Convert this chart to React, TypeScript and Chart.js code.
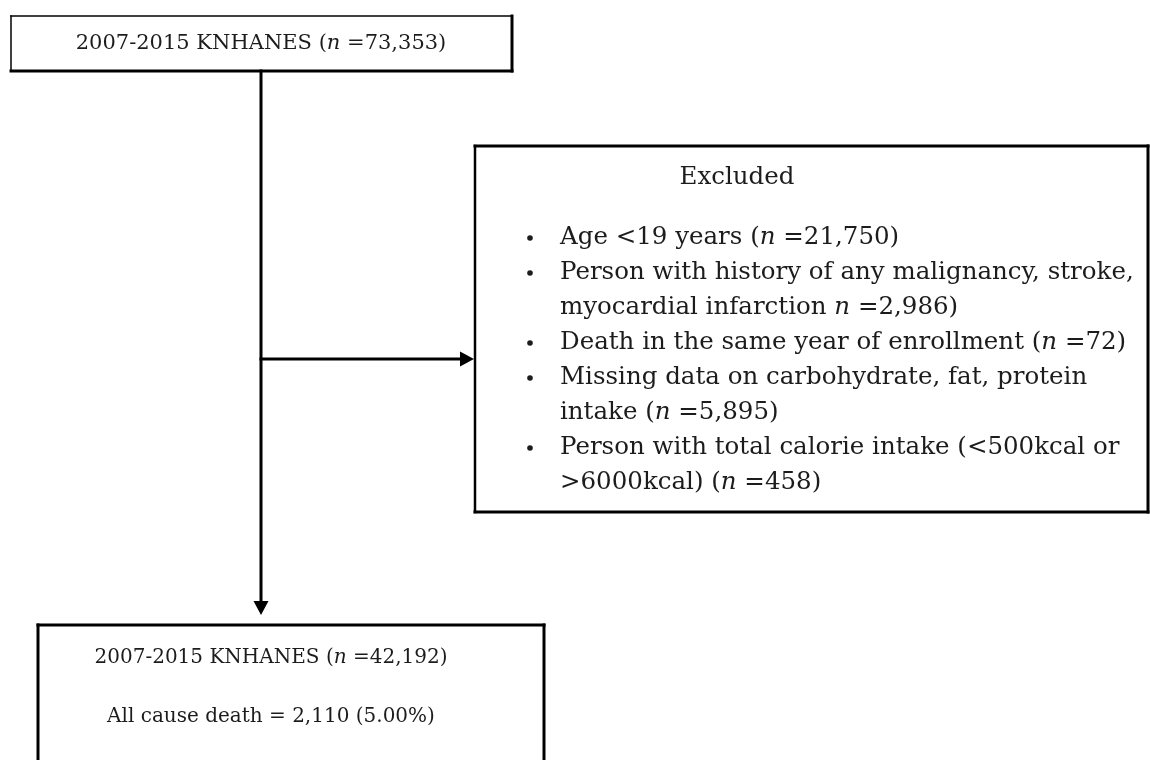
import React, { useEffect, useRef } from "react";
import { Chart, registerables } from "chart.js";

Chart.register(...registerables);

// ---- content (text marked with *...* is italic) ----
const topBoxLines: string[] = ["2007-2015 KNHANES (*n* =73,353)"];
const excludedTitle: string = "Excluded";
const excludedItems: string[][] = [
  ["Age <19 years (*n* =21,750)"],
  ["Person with history of any malignancy, stroke,", "myocardial infarction *n* =2,986)"],
  ["Death in the same year of enrollment (*n* =72)"],
  ["Missing data on carbohydrate, fat, protein", "intake (*n* =5,895)"],
  ["Person with total calorie intake (<500kcal or", ">6000kcal) (*n* =458)"],
];
const bottomBoxLines: string[] = ["2007-2015 KNHANES (*n* =42,192)", "All cause death = 2,110 (5.00%)"];

// ---- layout in a 1150 x 760 coordinate space ----
const W = 1150;
const H = 760;
const layout = {
  topBox: { x0: 11, x1: 512, y0: 16, y1: 71, lineYs: [44], textX: 261, fontSize: 21 },
  excluded: {
    x0: 475, x1: 1148, y0: 146, y1: 512,
    titleX: 737, titleY: 178, firstY: 238, gap: 35, bulletX: 530, textX: 560, fontSize: 24.5,
  },
  bottomBox: { x0: 38, x1: 544, y0: 625, y1: 820, lineYs: [658, 717], textX: 271, fontSize: 20 },
  trunk: { x: 261, y0: 71, tipY: 615 },
  branch: { y: 359, tipX: 474 },
};
const FONT_FAMILY = "'DejaVu Serif', 'Liberation Serif', serif";
const TEXT_COLOR = "#1c1c1c";

type Run = { t: string; it: boolean };
function parseRuns(s: string): Run[] {
  const parts = s.split("*");
  return parts.map((t, i) => ({ t, it: i % 2 === 1 })).filter((r) => r.t.length > 0);
}

const flowPlugin = {
  id: "flowchart",
  afterDraw(chart: any) {
    const ctx: CanvasRenderingContext2D = chart.ctx;
    const xs = chart.scales.x;
    const ys = chart.scales.y;
    const px = (v: number) => xs.getPixelForValue(v);
    const py = (v: number) => ys.getPixelForValue(v);
    const font = (it: boolean, size: number) => `${it ? "italic " : ""}${size}px ${FONT_FAMILY}`;

    const measure = (s: string, size: number) => {
      let w = 0;
      for (const r of parseRuns(s)) {
        ctx.font = font(r.it, size);
        w += ctx.measureText(r.t).width;
      }
      return w;
    };
    const drawText = (s: string, x: number, y: number, align: "left" | "center", size: number) => {
      let cx = align === "center" ? x - measure(s, size) / 2 : x;
      ctx.fillStyle = TEXT_COLOR;
      ctx.textBaseline = "middle";
      ctx.textAlign = "left";
      for (const r of parseRuns(s)) {
        ctx.font = font(r.it, size);
        ctx.fillText(r.t, cx, y);
        cx += ctx.measureText(r.t).width;
      }
    };
    const line = (x0: number, y0: number, x1: number, y1: number, w: number) => {
      ctx.beginPath();
      ctx.moveTo(px(x0), py(y0));
      ctx.lineTo(px(x1), py(y1));
      ctx.lineWidth = w;
      ctx.strokeStyle = "#000";
      ctx.lineCap = "square";
      ctx.stroke();
    };
    const box = (b: { x0: number; x1: number; y0: number; y1: number }, wTop: number, wRight: number, wBottom: number, wLeft: number) => {
      line(b.x0, b.y0, b.x1, b.y0, wTop);
      line(b.x1, b.y0, b.x1, b.y1, wRight);
      line(b.x0, b.y1, b.x1, b.y1, wBottom);
      line(b.x0, b.y0, b.x0, b.y1, wLeft);
    };
    const arrowHead = (tx: number, ty: number, dir: "down" | "right") => {
      const L = 14;
      const hw = 7.5;
      ctx.beginPath();
      if (dir === "down") {
        ctx.moveTo(px(tx), py(ty));
        ctx.lineTo(px(tx - hw), py(ty - L));
        ctx.lineTo(px(tx + hw), py(ty - L));
      } else {
        ctx.moveTo(px(tx), py(ty));
        ctx.lineTo(px(tx - L), py(ty - hw));
        ctx.lineTo(px(tx - L), py(ty + hw));
      }
      ctx.closePath();
      ctx.fillStyle = "#000";
      ctx.fill();
    };

    ctx.save();
    // top box
    const tb = layout.topBox;
    box(tb, 1.5, 3, 3, 1.5);
    topBoxLines.forEach((s, i) => drawText(s, px(tb.textX), py(tb.lineYs[i]), "center", tb.fontSize));

    // excluded box
    const ex = layout.excluded;
    box(ex, 3, 3, 3, 2.5);
    drawText(excludedTitle, px(ex.titleX), py(ex.titleY), "center", ex.fontSize);
    let row = 0;
    excludedItems.forEach((item) => {
      item.forEach((s, j) => {
        const y = py(ex.firstY + row * ex.gap);
        if (j === 0) {
          ctx.beginPath();
          ctx.arc(px(ex.bulletX), y, 2.8, 0, Math.PI * 2);
          ctx.fillStyle = TEXT_COLOR;
          ctx.fill();
        }
        drawText(s, px(ex.textX), y, "left", ex.fontSize);
        row++;
      });
    });

    // bottom box
    const bb = layout.bottomBox;
    box(bb, 3, 3, 3, 3);
    bottomBoxLines.forEach((s, i) => drawText(s, px(bb.textX), py(bb.lineYs[i]), "center", bb.fontSize));

    // connectors
    const tr = layout.trunk;
    line(tr.x, tr.y0, tr.x, tr.tipY - 8, 3);
    arrowHead(tr.x, tr.tipY, "down");
    const br = layout.branch;
    line(tr.x, br.y, br.tipX - 8, br.y, 3);
    arrowHead(br.tipX, br.y, "right");
    ctx.restore();
  },
};

export default function App() {
  const ref = useRef<HTMLCanvasElement | null>(null);
  useEffect(() => {
    document.body.style.margin = "0";
    document.body.style.background = "#fff";
    if (!ref.current) return;
    const chart = new Chart(ref.current, {
      type: "scatter",
      data: { datasets: [{ data: [], pointRadius: 0 }] },
      options: {
        animation: false,
        responsive: true,
        maintainAspectRatio: false,
        layout: { padding: 0 },
        plugins: { legend: { display: false }, tooltip: { enabled: false } },
        scales: {
          x: { type: "linear", min: 0, max: W, display: false },
          y: { type: "linear", min: 0, max: H, reverse: true, display: false },
        },
      },
      plugins: [flowPlugin],
    });
    return () => chart.destroy();
  }, []);
  return (
    <div style={{ width: W, height: H, position: "relative", background: "#fff" }}>
      <canvas ref={ref} />
    </div>
  );
}
